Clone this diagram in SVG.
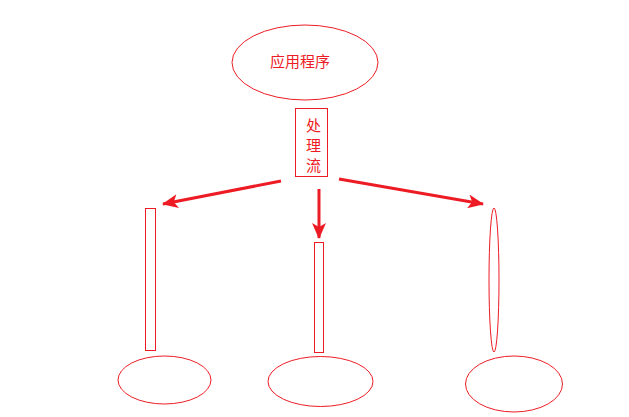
<svg xmlns="http://www.w3.org/2000/svg" width="629" height="417" viewBox="0 0 629 417">
<style>
.s{fill:none;stroke:#ed1c24;stroke-width:1}
.t{fill:#ed1c24;font-family:"Liberation Sans","Noto Sans CJK SC",sans-serif;font-size:15px;text-anchor:middle;dominant-baseline:central}
.a{fill:none;stroke:#ed1c24;stroke-width:3}
</style>
<defs>
<marker id="ah" markerUnits="userSpaceOnUse" markerWidth="16" markerHeight="14" refX="15" refY="7" orient="auto">
<path d="M0,0 L16,7 L0,14 L4,7 Z" fill="#ed1c24"/>
</marker>
</defs>
<rect width="629" height="417" fill="#fff"/>
<g id="app"><ellipse class="s" cx="305" cy="62.5" rx="73" ry="37.5"/><text class="t" x="300" y="61">应用程序</text></g>
<g id="proc"><rect class="s" x="295.5" y="108.5" width="32" height="68"/><text class="t" x="313.5" y="125">处</text><text class="t" x="313.5" y="145">理</text><text class="t" x="313.5" y="165">流</text></g>
<g id="bar1"><rect class="s" x="145.5" y="208.5" width="10" height="142"/></g>
<g id="bar2"><rect class="s" x="314.5" y="242.5" width="9" height="110"/></g>
<g id="bar3"><ellipse class="s" cx="494" cy="280" rx="5" ry="72"/></g>
<g id="e1"><ellipse class="s" cx="164.5" cy="380" rx="46.5" ry="24"/></g>
<g id="e2"><ellipse class="s" cx="320.5" cy="381.5" rx="52.5" ry="25"/></g>
<g id="e3"><ellipse class="s" cx="514" cy="384" rx="48.5" ry="28"/></g>
<g id="connectors">
<line class="a" x1="281" y1="181" x2="163" y2="204" marker-end="url(#ah)"/>
<line class="a" x1="319" y1="189" x2="319" y2="238" marker-end="url(#ah)"/>
<line class="a" x1="339" y1="179" x2="483" y2="204" marker-end="url(#ah)"/>
</g>
</svg>
